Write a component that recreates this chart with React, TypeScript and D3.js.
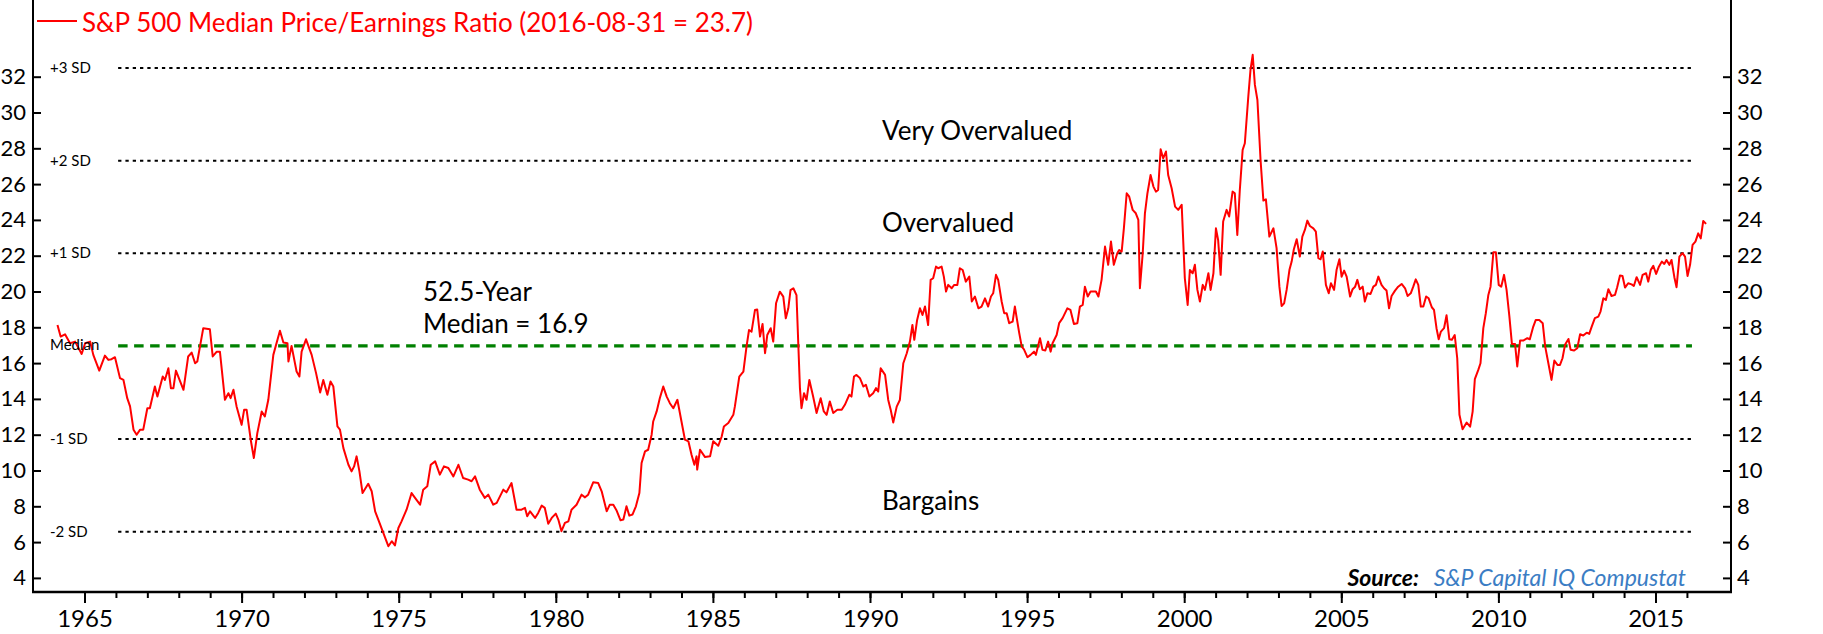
import { useEffect, useRef } from "react";
import { axisBottom, axisLeft, axisRight, line, range, scaleLinear, select } from "d3";

// monthly-ish readings of the median P/E, [decimal year, ratio]
const pe1960s: [number, number][] = [
  [1964.14, 18.13], [1964.24, 17.48], [1964.38, 17.61], [1964.54, 17.11], [1964.7, 17.2], [1964.91, 16.51],
  [1965.02, 17.11], [1965.18, 17.2], [1965.28, 16.46], [1965.47, 15.58], [1965.65, 16.42], [1965.76, 16.18],
  [1965.86, 16.22], [1965.97, 16.33], [1966.13, 15.16], [1966.24, 15.06], [1966.36, 14.04], [1966.45, 13.58],
  [1966.56, 12.28], [1966.66, 12.0], [1966.77, 12.28], [1966.87, 12.28], [1967.0, 13.48], [1967.08, 13.48],
  [1967.24, 14.69], [1967.32, 14.13], [1967.49, 15.25], [1967.56, 15.06], [1967.67, 15.71], [1967.75, 14.6],
  [1967.83, 14.6], [1967.91, 15.58], [1968.15, 14.51], [1968.3, 16.37], [1968.41, 16.59], [1968.52, 15.99],
  [1968.59, 16.09], [1968.78, 17.95], [1968.99, 17.89], [1969.08, 16.37], [1969.21, 16.64], [1969.31, 16.64],
  [1969.47, 13.95], [1969.58, 14.32], [1969.65, 14.04], [1969.74, 14.51], [1969.84, 13.58],
];

const pe1970s: [number, number][] = [
  [1970.0, 12.55], [1970.08, 13.39], [1970.16, 13.39], [1970.29, 11.72], [1970.39, 10.7], [1970.5, 12.09],
  [1970.64, 13.3], [1970.74, 13.02], [1970.85, 13.95], [1971.01, 16.46], [1971.22, 17.81], [1971.33, 17.15],
  [1971.46, 17.11], [1971.49, 16.09], [1971.59, 16.96], [1971.75, 15.53], [1971.84, 15.25], [1971.91, 16.64],
  [1972.05, 17.33], [1972.23, 16.46], [1972.37, 15.44], [1972.5, 14.36], [1972.6, 15.06], [1972.73, 14.23],
  [1972.83, 14.97], [1972.92, 14.69], [1973.05, 12.46], [1973.13, 12.28], [1973.24, 11.25], [1973.4, 10.32],
  [1973.5, 9.95], [1973.58, 10.23], [1973.66, 10.79], [1973.75, 9.95], [1973.85, 8.74], [1974.03, 9.26],
  [1974.14, 8.84], [1974.25, 7.72], [1974.35, 7.26], [1974.51, 6.51], [1974.67, 5.77], [1974.78, 6.05],
  [1974.88, 5.81], [1974.99, 6.79], [1975.09, 7.16], [1975.25, 7.81], [1975.41, 8.74], [1975.52, 8.47],
  [1975.68, 8.09], [1975.78, 8.93], [1975.91, 9.12], [1976.02, 10.32], [1976.16, 10.51], [1976.31, 9.77],
  [1976.44, 10.23], [1976.58, 10.14], [1976.74, 9.67], [1976.9, 10.32], [1977.05, 9.58], [1977.21, 9.49],
  [1977.32, 9.4], [1977.43, 9.67], [1977.58, 8.93], [1977.74, 8.47], [1977.85, 8.65], [1978.01, 8.09],
  [1978.12, 8.19], [1978.33, 8.93], [1978.43, 8.78], [1978.59, 9.3], [1978.75, 7.81], [1978.91, 7.81],
  [1979.02, 7.91], [1979.09, 7.44], [1979.18, 7.72], [1979.34, 7.35], [1979.44, 7.63], [1979.55, 8.04],
  [1979.65, 7.91], [1979.76, 7.03], [1979.87, 7.35],
];

const pe1980s: [number, number][] = [
  [1980.0, 7.59], [1980.08, 7.26], [1980.18, 6.61], [1980.29, 7.07], [1980.4, 7.16], [1980.5, 7.81],
  [1980.66, 8.09], [1980.82, 8.65], [1980.93, 8.5], [1981.03, 8.65], [1981.19, 9.34], [1981.35, 9.3],
  [1981.46, 8.84], [1981.62, 7.72], [1981.72, 8.09], [1981.83, 8.09], [1981.93, 7.78], [1982.06, 7.22],
  [1982.15, 7.26], [1982.25, 8.0], [1982.34, 7.48], [1982.44, 7.54], [1982.55, 8.0], [1982.66, 8.74],
  [1982.73, 10.42], [1982.84, 11.07], [1982.94, 11.16], [1983.05, 12.0], [1983.1, 12.74], [1983.21, 13.3],
  [1983.31, 14.04], [1983.42, 14.69], [1983.53, 14.13], [1983.63, 13.76], [1983.74, 13.48], [1983.87, 13.95],
  [1984.0, 12.74], [1984.11, 11.72], [1984.22, 11.63], [1984.32, 10.88], [1984.41, 10.32], [1984.48, 10.79],
  [1984.5, 10.05], [1984.59, 11.16], [1984.75, 10.75], [1984.91, 10.79], [1985.01, 11.63], [1985.17, 11.38],
  [1985.28, 11.9], [1985.35, 12.46], [1985.49, 12.65], [1985.65, 13.11], [1985.7, 13.58], [1985.84, 15.25],
  [1985.97, 15.53], [1986.07, 16.92], [1986.15, 17.85], [1986.23, 17.76], [1986.34, 18.97], [1986.41, 19.0],
  [1986.5, 17.48], [1986.58, 18.19], [1986.66, 16.55], [1986.73, 17.57], [1986.84, 17.95], [1986.92, 17.2],
  [1987.01, 19.34], [1987.13, 19.99], [1987.24, 19.71], [1987.32, 18.5], [1987.4, 19.06], [1987.47, 20.08],
  [1987.56, 20.18], [1987.66, 19.8], [1987.77, 14.6], [1987.82, 13.48], [1987.9, 14.32], [1987.98, 13.95],
  [1988.07, 15.06], [1988.19, 14.13], [1988.3, 13.21], [1988.43, 14.04], [1988.53, 13.3], [1988.62, 13.11],
  [1988.72, 13.86], [1988.83, 13.21], [1988.96, 13.39], [1989.1, 13.39], [1989.2, 13.67], [1989.34, 14.23],
  [1989.41, 14.13], [1989.49, 15.25], [1989.57, 15.34], [1989.68, 15.16], [1989.79, 14.69], [1989.87, 14.79],
  [1989.98, 14.13],
];

const pe1990s: [number, number][] = [
  [1990.1, 14.32], [1990.19, 14.6], [1990.26, 14.41], [1990.34, 15.71], [1990.48, 15.34], [1990.58, 13.94],
  [1990.66, 13.38], [1990.74, 12.68], [1990.85, 13.57], [1990.95, 13.94], [1991.06, 15.99], [1991.17, 16.55],
  [1991.27, 17.2], [1991.35, 18.13], [1991.41, 17.3], [1991.5, 18.41], [1991.59, 19.06], [1991.67, 18.69],
  [1991.75, 19.16], [1991.85, 18.13], [1991.93, 20.65], [1992.01, 20.74], [1992.1, 21.39], [1992.17, 21.3],
  [1992.28, 21.39], [1992.35, 20.83], [1992.42, 20.0], [1992.49, 20.37], [1992.6, 20.18], [1992.68, 20.37],
  [1992.78, 20.37], [1992.86, 21.3], [1992.95, 21.2], [1993.05, 20.55], [1993.16, 20.83], [1993.24, 19.44],
  [1993.34, 19.72], [1993.45, 19.06], [1993.55, 19.16], [1993.66, 19.62], [1993.76, 19.16], [1993.85, 19.72],
  [1993.92, 19.9], [1994.01, 20.93], [1994.08, 20.65], [1994.19, 19.44], [1994.27, 18.79], [1994.35, 18.79],
  [1994.43, 18.23], [1994.54, 18.32], [1994.61, 19.16], [1994.75, 17.67], [1994.83, 16.92], [1994.9, 16.77],
  [1995.01, 16.33], [1995.11, 16.46], [1995.22, 16.64], [1995.28, 16.46], [1995.41, 17.39], [1995.49, 16.74],
  [1995.58, 16.7], [1995.67, 17.2], [1995.75, 16.64], [1995.81, 17.11], [1995.94, 17.57], [1996.02, 18.23],
  [1996.13, 18.51], [1996.28, 19.06], [1996.38, 18.97], [1996.49, 18.19], [1996.6, 18.23], [1996.68, 19.16],
  [1996.77, 19.25], [1996.84, 20.27], [1996.93, 19.72], [1997.02, 20.0], [1997.11, 20.0], [1997.19, 20.0],
  [1997.27, 19.72], [1997.37, 20.65], [1997.48, 22.51], [1997.58, 21.49], [1997.67, 22.79], [1997.76, 21.49],
  [1997.87, 22.14], [1997.93, 22.32], [1998.01, 22.23], [1998.08, 23.53], [1998.17, 25.49], [1998.25, 25.3],
  [1998.36, 24.56], [1998.46, 24.37], [1998.54, 24.0], [1998.59, 20.18], [1998.68, 22.14], [1998.75, 24.37],
  [1998.83, 25.49], [1998.93, 26.51], [1999.02, 25.86], [1999.1, 25.58], [1999.17, 25.67], [1999.25, 27.95],
  [1999.33, 27.44], [1999.42, 27.82], [1999.49, 26.51], [1999.6, 25.77], [1999.71, 24.74], [1999.81, 24.56],
  [1999.92, 24.84],
];

const pe2000s: [number, number][] = [
  [2000.02, 20.74], [2000.11, 19.25], [2000.18, 21.2], [2000.27, 21.02], [2000.34, 21.49], [2000.42, 20.09],
  [2000.5, 19.44], [2000.59, 20.37], [2000.66, 20.09], [2000.77, 21.02], [2000.84, 20.09], [2000.93, 21.02],
  [2001.01, 23.53], [2001.08, 22.88], [2001.16, 20.93], [2001.24, 23.91], [2001.35, 24.56], [2001.43, 24.19],
  [2001.54, 25.58], [2001.61, 25.49], [2001.69, 23.16], [2001.77, 25.67], [2001.86, 27.91], [2001.93, 28.28],
  [2002.04, 30.89], [2002.11, 32.38], [2002.18, 33.22], [2002.25, 31.54], [2002.33, 30.7], [2002.43, 27.35],
  [2002.52, 25.08], [2002.6, 25.15], [2002.71, 23.07], [2002.84, 23.53], [2002.94, 22.42], [2003.03, 20.27],
  [2003.1, 19.19], [2003.18, 19.34], [2003.26, 20.09], [2003.35, 21.21], [2003.42, 21.67], [2003.49, 22.36],
  [2003.58, 22.92], [2003.68, 21.95], [2003.76, 23.07], [2003.84, 23.44], [2003.92, 23.96], [2004.0, 23.66],
  [2004.11, 23.53], [2004.19, 23.35], [2004.27, 21.86], [2004.34, 21.8], [2004.41, 22.23], [2004.51, 20.37],
  [2004.6, 19.9], [2004.67, 20.46], [2004.77, 20.09], [2004.85, 21.21], [2004.94, 21.8], [2005.01, 20.83],
  [2005.09, 21.17], [2005.17, 20.83], [2005.28, 19.72], [2005.36, 20.13], [2005.44, 20.27], [2005.51, 20.65],
  [2005.59, 20.13], [2005.68, 20.27], [2005.75, 19.44], [2005.83, 19.9], [2005.93, 19.86], [2006.02, 20.27],
  [2006.1, 20.37], [2006.18, 20.83], [2006.28, 20.37], [2006.36, 20.18], [2006.44, 20.05], [2006.52, 19.06],
  [2006.6, 19.75], [2006.71, 20.05], [2006.81, 20.27], [2006.92, 20.42], [2007.03, 20.18], [2007.11, 19.75],
  [2007.21, 19.9], [2007.29, 20.27], [2007.37, 20.68], [2007.45, 20.37], [2007.53, 19.16], [2007.61, 19.16],
  [2007.7, 19.72], [2007.78, 19.62], [2007.88, 19.12], [2007.95, 18.97], [2008.03, 17.95], [2008.1, 17.33],
  [2008.17, 17.76], [2008.27, 17.95], [2008.35, 18.67], [2008.44, 17.33], [2008.52, 17.3], [2008.61, 17.57],
  [2008.69, 16.27], [2008.76, 13.11], [2008.86, 12.3], [2008.99, 12.68], [2009.1, 12.45], [2009.18, 13.29],
  [2009.25, 15.1], [2009.36, 15.62], [2009.43, 15.99], [2009.52, 17.95], [2009.6, 18.79], [2009.68, 19.81],
  [2009.75, 20.27], [2009.84, 22.19], [2009.92, 22.19],
];

const pe2010s: [number, number][] = [
  [2010.01, 20.37], [2010.09, 20.27], [2010.18, 20.93], [2010.26, 20.09], [2010.35, 18.6], [2010.43, 17.07],
  [2010.53, 17.07], [2010.6, 15.81], [2010.69, 17.26], [2010.79, 17.26], [2010.92, 17.39], [2011.0, 17.33],
  [2011.11, 18.04], [2011.19, 18.41], [2011.3, 18.41], [2011.41, 18.23], [2011.49, 16.92], [2011.59, 15.99],
  [2011.69, 15.06], [2011.78, 16.14], [2011.88, 15.9], [2011.96, 15.9], [2012.04, 16.27], [2012.12, 17.02],
  [2012.23, 17.35], [2012.3, 16.74], [2012.41, 16.7], [2012.51, 16.83], [2012.6, 17.61], [2012.7, 17.54],
  [2012.81, 17.7], [2012.89, 17.63], [2012.97, 18.04], [2013.07, 18.51], [2013.18, 18.6], [2013.25, 18.88],
  [2013.34, 19.62], [2013.42, 19.53], [2013.5, 20.13], [2013.6, 19.75], [2013.71, 19.81], [2013.78, 20.24],
  [2013.87, 20.89], [2013.95, 20.87], [2014.03, 20.22], [2014.13, 20.46], [2014.24, 20.4], [2014.31, 20.31],
  [2014.4, 20.8], [2014.51, 20.37], [2014.59, 20.93], [2014.7, 21.02], [2014.77, 20.55], [2014.85, 21.21],
  [2014.93, 21.43], [2015.02, 20.98], [2015.1, 21.35], [2015.2, 21.67], [2015.28, 21.54], [2015.35, 21.76],
  [2015.44, 21.49], [2015.51, 21.76], [2015.6, 20.8], [2015.67, 20.24], [2015.76, 21.95], [2015.86, 22.14],
  [2015.94, 21.95], [2016.02, 20.87], [2016.1, 21.49], [2016.18, 22.6], [2016.27, 22.79], [2016.36, 23.25],
  [2016.44, 22.97], [2016.52, 23.94], [2016.61, 23.78],
];

const yTicks = range(4, 33, 2);
const yearTicks = range(1965, 2017);
const labelYears = range(1965, 2016, 5);

const medianPE = 16.96;
const sdLevels = [32.48, 27.31, 22.13, 11.76, 6.58];
const sdLabels = ["+3 SD", "+2 SD", "+1 SD", "-1 SD", "-2 SD"];
const bandSpan = [1966.07, 2016.16];

const legendText = "S&P 500 Median Price/Earnings Ratio (2016-08-31 = 23.7)";

const FONT = "Lato, 'Noto Sans', sans-serif";

export default function App() {
  const leftRef = useRef<SVGGElement>(null);
  const rightRef = useRef<SVGGElement>(null);
  const minorRef = useRef<SVGGElement>(null);
  const majorRef = useRef<SVGGElement>(null);

  const plotLeft = 33;
  const plotRight = 1731;
  const plotBottom = 592;

  const x = scaleLinear().domain([1965, 2015]).range([84.5, 1655.5]);
  const y = scaleLinear().domain([4, 32]).range([577.9, 76.7]);

  const data = [...pe1960s, ...pe1970s, ...pe1980s, ...pe1990s, ...pe2000s, ...pe2010s];
  const path = line<[number, number]>()
    .x((d) => x(d[0]))
    .y((d) => y(d[1]))(data);

  useEffect(() => {
    const style = (g: any, size: number) => {
      g.select(".domain").remove();
      g.attr("font-family", FONT).attr("font-size", size);
      g.selectAll("line").attr("stroke", "#000").attr("stroke-width", 2);
      g.selectAll("text").attr("fill", "#000");
    };
    if (leftRef.current) {
      select(leftRef.current)
        .call(axisLeft(y).tickValues(yTicks).tickSizeInner(-8).tickSizeOuter(0).tickPadding(7))
        .call((g) => style(g, 22));
    }
    if (rightRef.current) {
      select(rightRef.current)
        .call(axisRight(y).tickValues(yTicks).tickSizeInner(-8).tickSizeOuter(0).tickPadding(6))
        .call((g) => style(g, 22));
    }
    if (minorRef.current) {
      select(minorRef.current)
        .call(axisBottom(x).tickValues(yearTicks).tickSize(6).tickFormat(() => ""))
        .call((g) => style(g, 24));
    }
    if (majorRef.current) {
      select(majorRef.current)
        .call(axisBottom(x).tickValues(labelYears).tickSize(11).tickPadding(7).tickFormat((d) => String(d)))
        .call((g) => style(g, 24));
    }
  }, []);

  return (
    <svg
      width={1823}
      height={634}
      style={{ position: "absolute", left: 0, top: 0, background: "#fff" }}
      fontFamily={FONT}
    >
      {/* SD bands */}
      {sdLevels.map((v, i) => (
        <g key={sdLabels[i]}>
          <line
            x1={x(bandSpan[0])}
            x2={x(bandSpan[1])}
            y1={y(v)}
            y2={y(v)}
            stroke="#000"
            strokeWidth={2}
            strokeDasharray="3.3 4"
          />
          <text x={50} y={y(v)} dy="0.33em" fontSize={15} fill="#000">
            {sdLabels[i]}
          </text>
        </g>
      ))}
      <line
        x1={x(bandSpan[0])}
        x2={x(bandSpan[1])}
        y1={y(medianPE)}
        y2={y(medianPE)}
        stroke="#008000"
        strokeWidth={3.3}
        strokeDasharray="9.5 6.5"
      />

      <path d={path ?? ""} fill="none" stroke="#ff0000" strokeWidth={2} strokeLinejoin="round" />

      <text x={50} y={y(medianPE)} dy="0.3em" fontSize={15} fill="#000">
        Median
      </text>

      {/* frame */}
      <line x1={plotLeft} x2={plotLeft} y1={0} y2={plotBottom} stroke="#000" strokeWidth={2} />
      <line x1={plotRight} x2={plotRight} y1={0} y2={plotBottom} stroke="#000" strokeWidth={2} />
      <line x1={plotLeft - 1} x2={plotRight + 1} y1={plotBottom} y2={plotBottom} stroke="#000" strokeWidth={2.5} />

      <g ref={leftRef} transform={`translate(${plotLeft},0)`} />
      <g ref={rightRef} transform={`translate(${plotRight},0)`} />
      <g ref={minorRef} transform={`translate(0,${plotBottom})`} />
      <g ref={majorRef} transform={`translate(0,${plotBottom})`} />

      {/* zone annotations */}
      <g fontSize={26} fill="#000">
        <text x={882} y={140}>Very Overvalued</text>
        <text x={882} y={232}>Overvalued</text>
        <text x={882} y={510}>Bargains</text>
        <text x={423} y={301}>52.5-Year</text>
        <text x={423} y={333}>Median = 16.9</text>
      </g>

      {/* legend */}
      <line x1={37} x2={77} y1={21} y2={21} stroke="#ff0000" strokeWidth={2} />
      <text x={82} y={31.7} fontSize={26} fill="#ff0000">
        {legendText}
      </text>

      {/* source */}
      <g fontSize={23} fontStyle="italic">
        <text x={1419} y={586} textAnchor="end" fontWeight="bold" fill="#000">
          Source:
        </text>
        <text x={1686} y={586} textAnchor="end" fill="#3b7dc4">
          S&amp;P Capital IQ Compustat
        </text>
      </g>
    </svg>
  );
}
